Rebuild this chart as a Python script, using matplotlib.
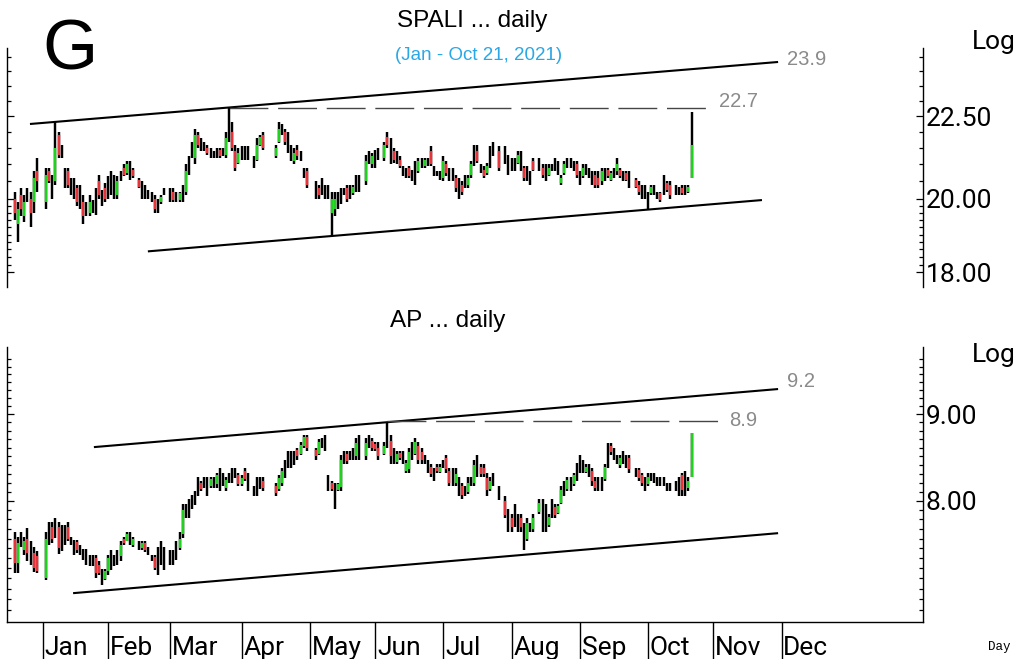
import numpy as np
import matplotlib
matplotlib.use("Agg")
import matplotlib.pyplot as plt
import matplotlib.transforms as mtransforms
from matplotlib.ticker import FixedLocator, FixedFormatter, NullFormatter

W, H = 1014, 659
GREEN = '#1ed21e'
RED = '#e8333b'
BAR_LW = 1.75

# one entry per weekday from 2020-12-21 to 2021-10-21, None = market holiday
FIRST_DAY = '2020-12-21'
months = ['Jan', 'Feb', 'Mar', 'Apr', 'May', 'Jun', 'Jul', 'Aug', 'Sep', 'Oct', 'Nov', 'Dec']

spali_high = [
    20.2, 19.9, 20.3, 20.1, 20.3, 20.2, 20.8, 21.2, None, None,
    20.9, 20.9, 20.7, 22.3, 22.0, 21.6, 20.9, 20.9, 20.6, 20.6,
    20.4, 20.4, 20.1, 19.9, 20.1, 19.95, 20.3, 20.7, 20.25, 20.45,
    20.65, 20.8, 20.7, 20.65, 20.8, 21.0, 21.1, 21.1, 20.9, None,
    20.6, 20.5, 20.4, 20.25, 20.2, 20.1, 20.0, 20.1, 20.3, None,
    20.3, 20.3, 20.2, 20.2, 20.4, 21.0, 21.25, 21.7, 22.1, 22.0,
    21.8, 21.7, 21.6, 21.5, 21.4, 21.5, 21.5, 21.5, 22.0, 22.75,
    22.3, 21.6, 21.5, 21.55, 21.55, 21.55, None, 21.25, 21.8, 21.9,
    22.0, None, None, None, 21.6, 22.3, 22.25, 22.1, 22.0, 21.6,
    21.5, 21.6, 21.4, 20.9, 20.9, None, None, 20.5, 20.4, 20.6,
    20.4, 20.4, 20.2, 20.2, 20.2, 20.3, 20.3, 20.4, 20.4, 20.4,
    20.7, 20.7, None, 21.3, 21.4, 21.35, 21.45, 21.5, None, 21.7,
    22.0, 21.8, 21.5, 21.4, 21.25, 20.95, 20.9, 20.95, 20.85, 21.1,
    21.2, 21.2, 21.2, 21.2, 21.55, 20.95, 20.8, 20.8, 21.25, 21.1,
    20.9, 20.9, 20.7, 20.6, 20.5, 20.7, 20.7, 21.1, 21.6, 21.6,
    21.0, 20.95, 21.05, 21.55, 21.7, None, 21.55, None, 21.55, 21.3,
    21.2, 21.2, 21.4, 21.4, 20.95, 20.95, 20.8, 21.2, None, 21.2,
    21.0, 21.0, 21.0, 21.0, 21.2, 21.1, 20.7, 21.1, 21.2, 21.2,
    21.1, 21.1, 20.8, 21.0, 21.0, 20.9, 20.8, 20.8, 20.8, 20.9,
    20.9, 20.9, 20.8, 20.9, 21.2, 20.9, 20.8, 20.8, 20.8, None,
    20.6, 20.5, 20.4, 20.4, 20.2, 20.4, 20.4, 20.2, 20.2, 20.7,
    20.5, 20.5, None, 20.4, 20.35, 20.4, 20.4, 20.4, 22.65]
spali_low = [
    19.4, 18.8, 19.5, 19.35, 19.9, 19.2, 19.6, 20.2, None, None,
    19.7, 20.45, 20.0, 20.4, 21.2, 21.2, 20.3, 20.3, 20.1, 20.0,
    19.8, 19.7, 19.3, 19.5, 19.5, 19.6, 19.55, 20.0, 19.8, 19.9,
    20.0, 20.1, 20.0, 20.0, 20.5, 20.65, 20.7, 20.55, 20.6, None,
    20.3, 20.0, 20.0, 20.0, 19.9, 19.6, 19.6, 19.85, 20.1, None,
    19.9, 19.9, 19.9, 19.9, 19.9, 20.1, 20.7, 21.2, 21.0, 21.5,
    21.4, 21.4, 21.3, 21.2, 21.2, 21.2, 21.2, 21.25, 21.2, 21.7,
    21.4, 20.8, 21.0, 21.15, 21.15, 21.15, None, 20.9, 21.1, 21.55,
    21.45, None, None, None, 21.2, 21.65, 21.9, 21.6, 21.35, 21.1,
    21.0, 21.15, 21.1, 20.6, 20.3, None, None, 20.0, 20.0, 20.1,
    20.0, 20.0, 19.0, 19.5, 19.7, 19.85, 20.1, 19.9, 20.0, 20.1,
    20.2, 20.2, None, 20.4, 21.0, 20.9, 20.9, 21.15, None, 21.1,
    21.5, 21.0, 21.05, 21.0, 20.9, 20.65, 20.6, 20.6, 20.5, 20.4,
    20.75, 20.9, 20.9, 20.95, 20.95, 20.65, 20.65, 20.55, 20.5, 20.65,
    20.5, 20.5, 20.2, 20.0, 20.1, 20.3, 20.3, 20.6, 20.95, 21.05,
    20.75, 20.6, 20.7, 20.9, 21.25, None, 20.8, None, 21.0, 20.7,
    20.8, 20.8, 21.0, 20.8, 20.5, 20.5, 20.4, 20.8, None, 20.8,
    20.6, 20.5, 20.65, 20.8, 20.8, 20.7, 20.4, 20.7, 20.9, 20.9,
    20.8, 20.6, 20.4, 20.6, 20.7, 20.6, 20.4, 20.3, 20.3, 20.4,
    20.5, 20.6, 20.5, 20.6, 20.7, 20.6, 20.5, 20.5, 20.3, None,
    20.3, 20.1, 20.0, 20.0, 19.7, 20.1, 20.1, 20.0, 19.9, 20.1,
    20.2, 20.0, None, 20.1, 20.1, 20.1, 20.1, 20.15, 20.6]
spali_open = [
    20.0, 19.3, 20.1, 19.5, 20.1, 20.0, 19.9, 20.8, None, None,
    19.9, 20.8, 20.3, 20.5, 21.9, 21.4, 20.6, 20.8, 20.3, 20.4,
    20.3, 20.0, 19.9, 19.7, 19.6, 19.8, 19.9, 20.5, 20.0, 20.3,
    20.3, 20.5, 20.4, 20.1, 20.65, 20.9, 20.75, 20.9, 20.85, None,
    20.55, 20.2, 20.2, 20.1, 20.0, 20.0, 19.8, 19.9, 20.2, None,
    20.1, 20.2, 20.05, 19.95, 20.2, 20.2, 20.9, 21.4, 21.2, 21.9,
    21.6, 21.55, 21.5, 21.35, 21.3, 21.3, 21.45, 21.35, 21.3, 21.9,
    22.0, 21.4, 21.05, 21.3, 21.35, 21.3, None, 21.1, 21.15, 21.6,
    21.9, None, None, None, 21.25, 21.7, 22.1, 22.0, 21.7, 21.4,
    21.1, 21.45, 21.25, 20.75, 20.8, None, None, 20.2, 20.3, 20.3,
    20.2, 20.2, 19.6, 19.7, 19.9, 20.0, 20.2, 20.3, 20.2, 20.15,
    20.4, 20.5, None, 20.5, 21.2, 21.0, 21.2, 21.3, None, 21.2,
    21.85, 21.4, 21.4, 21.2, 21.15, 20.8, 20.75, 20.9, 20.7, 20.8,
    20.8, 21.05, 20.95, 21.1, 21.4, 20.8, 20.7, 20.7, 20.6, 21.0,
    20.7, 20.7, 20.6, 20.3, 20.4, 20.5, 20.4, 20.7, 21.2, 21.4,
    20.9, 20.85, 20.75, 21.2, 21.5, None, 21.4, None, 21.3, 21.0,
    21.0, 21.0, 21.05, 21.1, 20.9, 20.7, 20.6, 21.1, None, 21.0,
    20.9, 20.75, 20.7, 20.9, 21.0, 20.9, 20.45, 20.75, 21.05, 21.05,
    20.95, 21.0, 20.6, 20.65, 20.85, 20.75, 20.6, 20.7, 20.6, 20.5,
    20.7, 20.85, 20.55, 20.75, 20.8, 20.85, 20.65, 20.75, 20.5, None,
    20.55, 20.4, 20.2, 20.2, 20.0, 20.15, 20.25, 20.1, 20.15, 20.3,
    20.45, 20.4, None, 20.25, 20.2, 20.3, 20.25, 20.2, 20.6]
spali_close = [
    19.6, 19.7, 19.7, 19.9, 20.1, 19.6, 20.6, 20.5, None, None,
    20.7, 20.5, 20.3, 21.5, 21.3, 21.4, 20.6, 20.4, 20.3, 20.4,
    19.9, 20.0, 19.5, 19.7, 19.9, 19.8, 19.9, 20.1, 20.0, 20.0,
    20.3, 20.5, 20.4, 20.5, 20.65, 20.7, 21.0, 20.9, 20.65, None,
    20.35, 20.2, 20.2, 20.1, 20.0, 19.7, 19.8, 20.05, 20.2, None,
    20.1, 19.95, 20.05, 20.15, 20.2, 20.8, 20.9, 21.4, 21.9, 21.6,
    21.6, 21.55, 21.35, 21.35, 21.3, 21.3, 21.25, 21.35, 21.8, 21.9,
    21.5, 20.9, 21.35, 21.3, 21.35, 21.3, None, 21.1, 21.6, 21.85,
    21.5, None, None, None, 21.5, 22.1, 22.1, 21.7, 21.7, 21.4,
    21.35, 21.25, 21.25, 20.75, 20.4, None, None, 20.2, 20.1, 20.3,
    20.2, 20.2, 20.0, 20.0, 19.9, 20.0, 20.2, 20.0, 20.2, 20.35,
    20.4, 20.5, None, 21.1, 21.2, 21.25, 21.2, 21.3, None, 21.6,
    21.6, 21.4, 21.15, 21.2, 20.95, 20.8, 20.75, 20.65, 20.7, 20.8,
    21.1, 21.05, 21.15, 21.1, 21.0, 20.8, 20.7, 20.7, 21.1, 20.75,
    20.7, 20.7, 20.3, 20.3, 20.2, 20.5, 20.6, 21.0, 21.2, 21.1,
    20.9, 20.65, 20.95, 21.2, 21.5, None, 20.9, None, 21.3, 21.0,
    21.0, 21.0, 21.3, 21.1, 20.6, 20.7, 20.6, 20.85, None, 21.0,
    20.7, 20.75, 20.9, 20.9, 21.0, 20.9, 20.6, 21.0, 21.05, 21.05,
    20.95, 20.7, 20.6, 20.9, 20.85, 20.75, 20.6, 20.4, 20.4, 20.8,
    20.7, 20.65, 20.75, 20.75, 21.0, 20.65, 20.65, 20.55, 20.5, None,
    20.35, 20.2, 20.2, 20.2, 20.0, 20.35, 20.25, 20.1, 19.95, 20.3,
    20.25, 20.1, None, 20.25, 20.2, 20.15, 20.25, 20.35, 21.6]

ap_high = [
    7.67, 7.62, 7.67, 7.62, 7.71, 7.57, 7.51, 7.47, None, None,
    7.67, 7.77, 7.77, 7.82, 7.77, 7.74, 7.74, 7.77, 7.62, 7.59,
    7.59, 7.53, 7.49, 7.49, 7.43, 7.43, 7.43, 7.37, 7.29, 7.29,
    7.43, 7.48, 7.43, 7.48, 7.57, 7.62, 7.67, 7.67, 7.62, None,
    7.57, 7.57, 7.57, 7.51, 7.43, 7.43, 7.51, 7.57, 7.51, None,
    7.48, 7.48, 7.57, 7.67, 7.96, 7.96, 8.02, 8.06, 8.11, 8.26,
    8.22, 8.26, 8.26, 8.26, 8.26, 8.31, 8.36, 8.31, 8.26, 8.31,
    8.36, 8.36, 8.31, 8.28, 8.37, 8.31, None, 8.16, 8.26, 8.26,
    8.26, None, None, None, 8.20, 8.28, 8.37, 8.45, 8.56, 8.56,
    8.56, 8.6, 8.67, 8.75, 8.75, None, None, 8.6, 8.7, 8.71,
    8.75, 8.28, 8.22, 8.20, 8.20, 8.51, 8.56, 8.56, 8.56, 8.6,
    8.71, 8.75, None, 8.71, 8.75, 8.71, 8.67, 8.67, None, 8.67,
    8.9, 8.75, 8.6, 8.56, 8.56, 8.56, 8.46, 8.6, 8.67, 8.71,
    8.67, 8.6, 8.51, 8.46, 8.41, 8.37, 8.41, 8.41, 8.46, 8.51,
    8.37, 8.37, 8.37, 8.26, 8.20, 8.16, 8.26, 8.26, 8.46, 8.51,
    8.41, 8.41, 8.31, 8.26, 8.31, None, 8.16, None, 8.05, 7.91,
    7.86, 7.96, 7.86, 7.86, 7.76, 7.81, 7.76, 7.86, None, 8.02,
    8.02, 7.96, 7.86, 8.02, 7.96, 7.96, 8.16, 8.22, 8.26, 8.26,
    8.31, 8.42, 8.51, 8.46, 8.41, 8.41, 8.37, 8.26, 8.26, 8.26,
    8.41, 8.65, 8.65, 8.60, 8.51, 8.51, 8.56, 8.51, 8.51, None,
    8.37, 8.37, 8.31, 8.26, 8.31, 8.31, 8.31, 8.26, 8.26, 8.26,
    8.20, 8.20, None, 8.22, 8.26, 8.31, 8.33, 8.26, 8.77]
ap_low = [
    7.25, 7.25, 7.51, 7.43, 7.37, 7.33, 7.26, 7.25, None, None,
    7.18, 7.53, 7.55, 7.61, 7.44, 7.47, 7.53, 7.58, 7.53, 7.43,
    7.45, 7.43, 7.38, 7.33, 7.32, 7.32, 7.2, 7.23, 7.14, 7.18,
    7.23, 7.28, 7.32, 7.33, 7.37, 7.53, 7.57, 7.53, 7.51, None,
    7.48, 7.48, 7.46, 7.43, 7.37, 7.28, 7.23, 7.33, 7.28, None,
    7.33, 7.33, 7.38, 7.48, 7.61, 7.81, 7.81, 7.91, 7.95, 8.05,
    8.11, 8.14, 8.05, 8.14, 8.14, 8.14, 8.11, 8.16, 8.11, 8.2,
    8.2, 8.25, 8.16, 8.16, 8.22, 8.11, None, 8.05, 8.05, 8.13,
    8.11, None, None, None, 8.05, 8.11, 8.16, 8.25, 8.37, 8.37,
    8.40, 8.46, 8.51, 8.59, 8.56, None, None, 8.46, 8.51, 8.59,
    8.56, 8.11, 8.11, 7.91, 8.11, 8.11, 8.41, 8.41, 8.46, 8.46,
    8.46, 8.46, None, 8.46, 8.6, 8.56, 8.56, 8.46, None, 8.51,
    8.6, 8.41, 8.41, 8.41, 8.46, 8.41, 8.31, 8.31, 8.46, 8.51,
    8.41, 8.41, 8.41, 8.31, 8.26, 8.22, 8.31, 8.31, 8.37, 8.31,
    8.16, 8.16, 8.16, 8.05, 8.02, 8.05, 8.07, 8.16, 8.16, 8.26,
    8.26, 8.26, 8.05, 8.11, 8.16, None, 8.01, None, 7.81, 7.67,
    7.67, 7.72, 7.67, 7.67, 7.48, 7.57, 7.67, 7.67, None, 7.86,
    7.67, 7.67, 7.72, 7.81, 7.81, 7.86, 7.96, 8.05, 8.11, 8.11,
    8.16, 8.22, 8.31, 8.31, 8.31, 8.26, 8.16, 8.11, 8.11, 8.11,
    8.22, 8.37, 8.51, 8.46, 8.41, 8.37, 8.41, 8.37, 8.31, None,
    8.26, 8.22, 8.16, 8.11, 8.16, 8.22, 8.20, 8.16, 8.16, 8.16,
    8.11, 8.11, None, 8.11, 8.05, 8.05, 8.05, 8.11, 8.26]
ap_open = [
    7.6, 7.35, 7.6, 7.48, 7.6, 7.45, 7.45, 7.42, None, None,
    7.2, 7.65, 7.72, 7.7, 7.72, 7.6, 7.62, 7.72, 7.58, 7.5,
    7.56, 7.48, 7.43, 7.4, 7.38, 7.38, 7.4, 7.33, 7.2, 7.19,
    7.27, 7.38, 7.37, 7.4, 7.42, 7.6, 7.58, 7.6, 7.53, None,
    7.53, 7.5, 7.55, 7.47, 7.4, 7.41, 7.4, 7.45, 7.4, None,
    7.4, 7.4, 7.45, 7.5, 7.65, 7.88, 7.9, 7.98, 8.03, 8.15,
    8.2, 8.2, 8.15, 8.16, 8.2, 8.18, 8.25, 8.23, 8.14, 8.26,
    8.28, 8.3, 8.28, 8.18, 8.33, 8.2, None, 8.1, 8.15, 8.2,
    8.22, None, None, None, 8.16, 8.13, 8.2, 8.35, 8.45, 8.48,
    8.5, 8.57, 8.53, 8.62, 8.72, None, None, 8.57, 8.53, 8.65,
    8.65, 8.2, 8.2, 8.1, 8.12, 8.15, 8.48, 8.52, 8.5, 8.53,
    8.5, 8.6, None, 8.5, 8.68, 8.68, 8.64, 8.6, None, 8.53,
    8.75, 8.68, 8.5, 8.43, 8.54, 8.48, 8.33, 8.35, 8.55, 8.53,
    8.62, 8.55, 8.46, 8.4, 8.38, 8.3, 8.38, 8.32, 8.4, 8.48,
    8.33, 8.25, 8.2, 8.15, 8.16, 8.1, 8.1, 8.2, 8.2, 8.4,
    8.38, 8.36, 8.25, 8.13, 8.22, None, 8.08, None, 8.0, 7.8,
    7.82, 7.85, 7.76, 7.82, 7.65, 7.6, 7.72, 7.7, None, 7.88,
    7.9, 7.8, 7.74, 7.9, 7.93, 7.87, 7.98, 8.15, 8.13, 8.2,
    8.18, 8.3, 8.4, 8.38, 8.32, 8.35, 8.33, 8.22, 8.18, 8.18,
    8.24, 8.45, 8.62, 8.53, 8.46, 8.4, 8.48, 8.45, 8.48, None,
    8.32, 8.34, 8.28, 8.2, 8.18, 8.26, 8.25, 8.22, 8.2, 8.22,
    8.16, 8.16, None, 8.16, 8.15, 8.28, 8.18, 8.14, 8.26]
ap_close = [
    7.35, 7.55, 7.6, 7.58, 7.45, 7.45, 7.3, 7.27, None, None,
    7.6, 7.65, 7.6, 7.7, 7.5, 7.6, 7.62, 7.6, 7.58, 7.5,
    7.48, 7.48, 7.43, 7.4, 7.38, 7.38, 7.25, 7.25, 7.2, 7.27,
    7.4, 7.38, 7.37, 7.4, 7.53, 7.55, 7.65, 7.6, 7.6, None,
    7.53, 7.55, 7.48, 7.47, 7.4, 7.3, 7.4, 7.45, 7.4, None,
    7.4, 7.4, 7.45, 7.6, 7.9, 7.88, 7.9, 7.98, 8.03, 8.15,
    8.13, 8.2, 8.15, 8.24, 8.2, 8.28, 8.25, 8.23, 8.23, 8.26,
    8.28, 8.3, 8.19, 8.25, 8.24, 8.2, None, 8.1, 8.15, 8.2,
    8.14, None, None, None, 8.08, 8.25, 8.33, 8.35, 8.45, 8.48,
    8.5, 8.5, 8.63, 8.72, 8.6, None, None, 8.5, 8.66, 8.65,
    8.65, 8.2, 8.13, 8.1, 8.18, 8.45, 8.48, 8.44, 8.5, 8.53,
    8.65, 8.6, None, 8.65, 8.68, 8.6, 8.58, 8.5, None, 8.62,
    8.75, 8.5, 8.5, 8.52, 8.48, 8.48, 8.42, 8.55, 8.55, 8.67,
    8.45, 8.45, 8.46, 8.4, 8.3, 8.3, 8.33, 8.38, 8.4, 8.35,
    8.2, 8.25, 8.3, 8.15, 8.06, 8.1, 8.2, 8.2, 8.4, 8.4,
    8.3, 8.3, 8.12, 8.22, 8.22, None, 8.08, None, 7.85, 7.8,
    7.72, 7.85, 7.76, 7.72, 7.65, 7.76, 7.72, 7.82, None, 7.98,
    7.9, 7.8, 7.83, 7.9, 7.85, 7.94, 8.12, 8.15, 8.23, 8.2,
    8.28, 8.3, 8.4, 8.38, 8.38, 8.35, 8.22, 8.14, 8.18, 8.18,
    8.38, 8.45, 8.55, 8.53, 8.46, 8.48, 8.48, 8.45, 8.35, None,
    8.32, 8.25, 8.2, 8.2, 8.26, 8.26, 8.25, 8.22, 8.2, 8.22,
    8.16, 8.16, None, 8.16, 8.15, 8.12, 8.18, 8.22, 8.77]

# trend lines: (weekday index from Jan 1, price) end points
spali_upper = [(-4.2, 22.25), (236.9, 24.31)]
spali_lower = [(33.8, 18.55), (231.7, 19.96)]
spali_resist = [(60.0, 22.77), (215.9, 22.77)]
ap_upper = [(16.4, 8.605), (236.9, 9.311)]
ap_lower = [(9.7, 7.057), (236.9, 7.656)]
ap_resist = [(110.9, 8.918), (218.5, 8.918)]

x0 = -int(np.busday_count(FIRST_DAY, '2021-01-01'))
month_pos = np.busday_count('2021-01-01', ['2021-%02d-01' % m for m in range(1, 13)])
XLIM = (-11.6, 283.6)


def fig_xy(x, y):
    return x / W, 1 - y / H


def draw_bars(ax, o, h, l, c):
    o, h, l, c = (np.array(v, dtype=float) for v in (o, h, l, c))
    x = np.arange(len(h)) + x0
    ok = ~np.isnan(h)
    ax.vlines(x[ok], l[ok], h[ok], color='black', lw=BAR_LW)
    up = ok & (c > o)
    dn = ok & (c < o)
    ax.vlines(x[up], o[up], c[up], color=GREEN, lw=BAR_LW)
    ax.vlines(x[dn], c[dn], o[dn], color=RED, lw=BAR_LW)


def draw_lines(ax, upper, lower, resist):
    for seg in (upper, lower):
        ax.plot([seg[0][0], seg[1][0]], [seg[0][1], seg[1][1]], color='black', lw=1.5,
                solid_capstyle='butt')
    ax.plot([resist[0][0], resist[1][0]], [resist[0][1], resist[1][1]], color='#454545',
            lw=1.0, dashes=(28, 7))


def setup(ax, ylim, majors, minors):
    ax.set_yscale('log')
    ax.set_xlim(XLIM)
    ax.set_ylim(ylim)
    ax.yaxis.set_major_locator(FixedLocator(majors))
    ax.yaxis.set_major_formatter(FixedFormatter(['%.2f' % v for v in majors]))
    ax.yaxis.set_minor_locator(FixedLocator(minors))
    ax.yaxis.set_minor_formatter(NullFormatter())
    ax.tick_params(axis='y', which='both', direction='in', left=True, right=True,
                   labelleft=False, labelright=True, pad=2, labelsize=19,
                   labelfontfamily='Roboto', width=0.9)
    ax.tick_params(axis='y', which='major', length=5)
    ax.tick_params(axis='y', which='minor', length=3)
    ax.set_xticks([])
    ax.spines['top'].set_visible(False)
    for s in ax.spines.values():
        s.set_linewidth(1.0)


fig = plt.figure(figsize=(W / 100, H / 100), dpi=100)

# upper panel
ax1 = fig.add_axes([7 / W, 1 - 287 / H, 916 / W, 239 / H])
top_minor = [18.2, 18.4, 18.6, 18.8, 19.0, 19.2, 19.4, 19.6, 19.8,
             20.5, 21.0, 21.5, 22.0, 23.0, 23.5, 24.0, 24.5]
setup(ax1, (17.63, 24.80), [18.0, 20.0, 22.5], top_minor)
ax1.spines['bottom'].set_visible(False)
draw_lines(ax1, spali_upper, spali_lower, spali_resist)
draw_bars(ax1, spali_open, spali_high, spali_low, spali_close)

# lower panel
ax2 = fig.add_axes([7 / W, 1 - 622 / H, 916 / W, 275 / H])
bot_minor = [round(v, 1) for v in np.arange(6.9, 9.75, 0.1) if abs(v - 8) > 0.01 and abs(v - 9) > 0.01]
setup(ax2, (6.786, 9.858), [8.0, 9.0], bot_minor)
draw_lines(ax2, ap_upper, ap_lower, ap_resist)
draw_bars(ax2, ap_open, ap_high, ap_low, ap_close)

trans = mtransforms.blended_transform_factory(ax2.transData, ax2.transAxes)
ax2.vlines(month_pos, -37 / 275, 0, transform=trans, clip_on=False, color='black', lw=1.0)
for m, name in zip(month_pos, months):
    ax2.text(m + 0.6, -33 / 275, name, transform=trans, fontsize=19, family='Roboto',
             va='baseline', ha='left')

# texts
fig.text(*fig_xy(42, 70), 'G', fontsize=51, family='Liberation Sans', va='baseline')
fig.text(*fig_xy(397, 27), 'SPALI ... daily', fontsize=17.5, family='Liberation Sans', va='baseline')
fig.text(*fig_xy(395, 59.5), '(Jan - Oct 21, 2021)', fontsize=13.5, family='Liberation Sans',
         va='baseline', color='#2aa7e6')
fig.text(*fig_xy(390, 327), 'AP ... daily', fontsize=17.5, family='Liberation Sans', va='baseline')
fig.text(*fig_xy(972, 49), 'Log', fontsize=19, family='Roboto', va='baseline')
fig.text(*fig_xy(972, 362), 'Log', fontsize=19, family='Roboto', va='baseline')
fig.text(*fig_xy(988, 650), 'Day', fontsize=9, family='Liberation Mono', va='baseline')

gray = '#8a8a8a'
fig.text(*fig_xy(787, 65), '23.9', fontsize=14.5, family='Liberation Sans', va='baseline', color=gray)
fig.text(*fig_xy(719, 107), '22.7', fontsize=14.5, family='Liberation Sans', va='baseline', color=gray)
fig.text(*fig_xy(787, 387), '9.2', fontsize=14.5, family='Liberation Sans', va='baseline', color=gray)
fig.text(*fig_xy(729, 426), '8.9', fontsize=14.5, family='Liberation Sans', va='baseline', color=gray)

fig.savefig('out.png', dpi=100)
